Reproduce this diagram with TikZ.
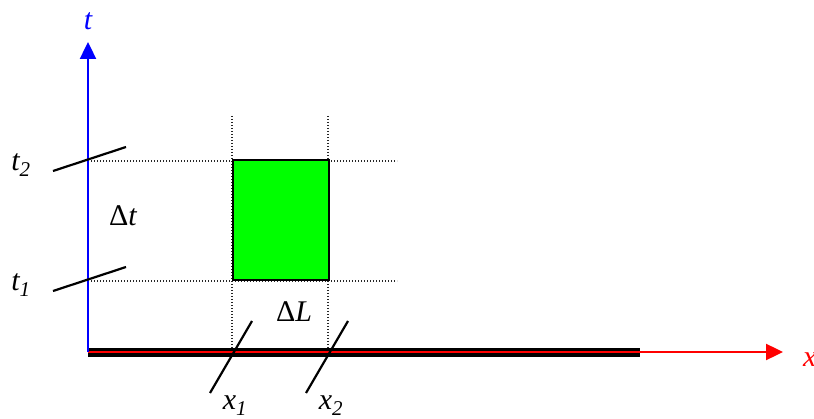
\documentclass[tikz,border=0pt]{standalone}
\usepackage{fontspec}
\setmainfont{Liberation Serif}
\usetikzlibrary{arrows.meta}
\definecolor{boxgreen}{RGB}{0,255,0}
\begin{document}
\begin{tikzpicture}[x=1pt,y=1pt,
  lbl/.style={inner sep=0pt,font=\fontsize{30}{34}\selectfont\itshape},
  dotline/.style={black!85,line width=1.2pt,dash pattern=on 1.4pt off 1.6pt},
  tick/.style={black,line width=2.2pt},
  axisarrow/.style={line width=2.4pt,-{Triangle[length=17pt,width=16pt]}}]
\useasboundingbox (0,0) rectangle (814,418);
% coordinates
\coordinate (O) at (88,66);
\coordinate (tend) at (88,376);
\coordinate (xend) at (783,66);
\coordinate (h2a) at (88,257); \coordinate (h2b) at (397,257);
\coordinate (h1a) at (88,137); \coordinate (h1b) at (397,137);
\coordinate (v1a) at (232,302); \coordinate (v1b) at (232,66);
\coordinate (v2a) at (328,302); \coordinate (v2b) at (328,66);
\coordinate (t2a) at (53,247); \coordinate (t2b) at (126,271);
\coordinate (t1a) at (53,127); \coordinate (t1b) at (126,151);
\coordinate (x1a) at (210,25); \coordinate (x1b) at (252,97);
\coordinate (x2a) at (306,25); \coordinate (x2b) at (348,97);
\coordinate (bara) at (88,65.5); \coordinate (barb) at (640,65.5);
% dotted guides
\draw[dotline] (h2a) -- (h2b);
\draw[dotline] (h1a) -- (h1b);
\draw[dotline] (v1a) -- (v1b);
\draw[dotline] (v2a) -- (v2b);
% green box
\node[draw=black,line width=2pt,fill=boxgreen,minimum width=96pt,minimum height=120pt,inner sep=0pt,anchor=south west] (box) at (232,137) {};
% bar and axes
\draw[black,line width=8.5pt] (bara) -- (barb);
\draw[red,axisarrow,line width=2.4pt] (O) -- (xend);
\draw[blue,axisarrow] (O) -- (tend);
% ticks
\draw[tick] (t2a) -- (t2b);
\draw[tick] (t1a) -- (t1b);
\draw[tick] (x1a) -- (x1b);
\draw[tick] (x2a) -- (x2b);
% labels
\node[lbl,text=blue] (tl) at (88,397) {t};
\node[lbl,text=red,anchor=west] (xl) at (803,58) {x};
\node[lbl] (t2l) at (21,253) {t\textsubscript{2}};
\node[lbl] (t1l) at (21,133) {t\textsubscript{1}};
\node[lbl] (dt) at (123,202) {\upshape Δ\itshape t};
\node[lbl] (dL) at (294,106) {\upshape Δ\itshape L};
\node[lbl,anchor=north] (x1l) at (235,22) {x\textsubscript{1}};
\node[lbl,anchor=north] (x2l) at (331,22) {x\textsubscript{2}};
\end{tikzpicture}
\end{document}
